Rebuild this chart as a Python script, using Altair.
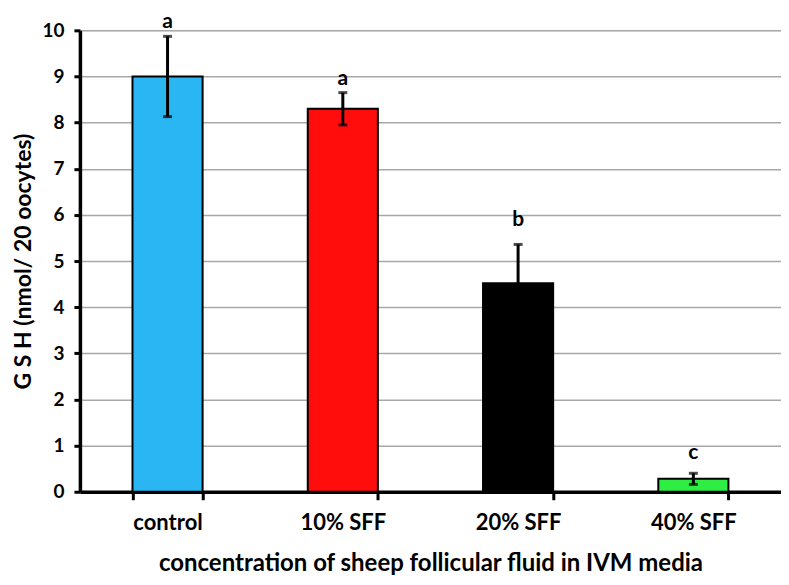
import altair as alt
import pandas as pd

categories = ["control", "10% SFF", "20% SFF", "40% SFF"]
means = [9.0, 8.3, 4.52, 0.28]
errors = [0.87, 0.35, 0.84, 0.12]
letters = ["a", "a", "b", "c"]
letter_heights = [10.17, 8.95, 5.88, 0.84]
colors = ["#29B6F2", "#FF0D0D", "#000000", "#2EEE44"]

df = pd.DataFrame({
    "cat": categories,
    "mean": means,
    "lo": [m - e for m, e in zip(means, errors)],
    "hi": [m + e for m, e in zip(means, errors)],
    "letter": letters,
    "ly": letter_heights,
})

FONT = "Lato"

x = alt.X("cat:N", sort=categories,
          scale=alt.Scale(paddingInner=0.6, paddingOuter=0.3),
          axis=alt.Axis(title="concentration of sheep follicular fluid in IVM media",
                        labelAngle=0, labelFontSize=22, labelFontWeight="bold",
                        labelFont=FONT, labelColor="black", labelPadding=13,
                        titleFontSize=24, titleFontWeight="bold", titleFont=FONT,
                        titleColor="black", titlePadding=18,
                        domainColor="black", domainWidth=3.5,
                        tickColor="black", tickWidth=3, tickSize=8,
                        tickBand="extent", grid=False))

y_scale = alt.Scale(domain=[0, 10], nice=False)
y_axis = alt.Axis(title="G S H (nmol/ 20 oocytes)", values=list(range(0, 11)),
                  labelFontSize=19, labelFontWeight="bold", labelFont=FONT,
                  labelColor="black", labelPadding=10,
                  titleFontSize=23, titleFontWeight="bold", titleFont=FONT,
                  titleColor="black", titlePadding=6,
                  domainColor="black", domainWidth=3.5,
                  tickColor="black", tickWidth=3, tickSize=6,
                  grid=True, gridColor="#A8A8A8", gridWidth=1.5)

base = alt.Chart(df)

bars = base.mark_bar(stroke="black", strokeWidth=2).encode(
    x=x,
    y=alt.Y("mean:Q", scale=y_scale, axis=y_axis),
    color=alt.Color("cat:N", scale=alt.Scale(domain=categories, range=colors), legend=None),
)

rules = base.mark_rule(color="black", strokeWidth=3).encode(
    x=alt.X("cat:N", sort=categories),
    y="lo:Q",
    y2="hi:Q",
)

caps_hi = base.mark_tick(color="black", thickness=3, size=9).encode(
    x=alt.X("cat:N", sort=categories), y="hi:Q")
caps_lo = base.mark_tick(color="black", thickness=3, size=9).encode(
    x=alt.X("cat:N", sort=categories), y="lo:Q")

text = base.mark_text(fontSize=21, fontWeight="bold", font=FONT, color="black",
                      baseline="middle").encode(
    x=alt.X("cat:N", sort=categories), y="ly:Q", text="letter:N")

chart = alt.layer(bars, rules, caps_hi, caps_lo, text).properties(
    width=702, height=462,
    autosize=alt.AutoSizeParams(type="none"),
    padding={"left": 72, "top": 22, "right": 0, "bottom": 85},
).configure_view(stroke=None).configure(background="white")

chart.save("out.html", embed_options={"renderer": "svg", "actions": False})
